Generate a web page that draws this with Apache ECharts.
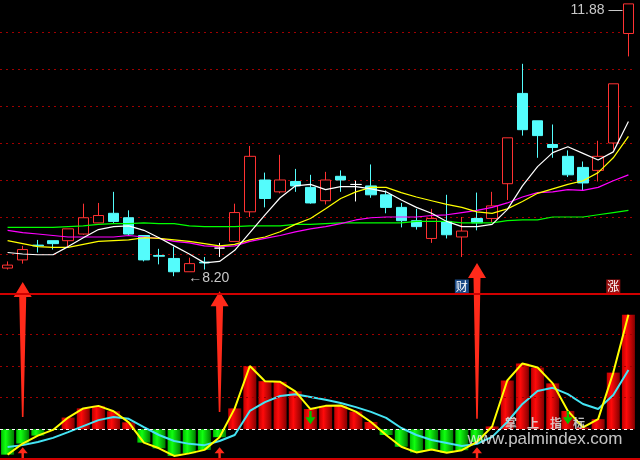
<!DOCTYPE html>
<html><head><meta charset="utf-8">
<script src="https://cdn.jsdelivr.net/npm/echarts@6/dist/echarts.min.js"></script>
<style>html,body{margin:0;padding:0;background:#000}#c{width:640px;height:460px}</style>
</head><body><div id="c"></div>
<script>
// ---------- data ----------
const days = ['1','2','3','4','5','6','7','8','9','10','11','12','13','14','15','16','17','18','19','20','21',
  '22','23','24','25','26','27','28','29','30','31','32','33','34','35','36','37','38','39','40','41','42'];

// [open, close, low, high]
const candles = [
  [8.31,8.35,8.29,8.40],[8.42,8.56,8.37,8.61],[8.62,8.61,8.52,8.69],[8.68,8.64,8.56,8.68],
  [8.68,8.84,8.60,8.84],[8.77,8.99,8.76,9.18],[8.92,9.02,8.92,9.19],[9.05,8.94,8.92,9.34],
  [8.99,8.77,8.75,9.09],[8.75,8.42,8.40,8.75],[8.48,8.47,8.36,8.57],[8.44,8.26,8.20,8.60],
  [8.26,8.37,8.26,8.45],[8.39,8.38,8.29,8.46],[8.58,8.58,8.46,8.65],[8.67,9.06,8.67,9.18],
  [9.07,9.82,9.00,9.96],[9.50,9.25,9.13,9.60],[9.34,9.50,9.32,9.84],[9.48,9.42,9.34,9.65],
  [9.40,9.19,9.18,9.57],[9.22,9.50,9.17,9.61],[9.55,9.50,9.34,9.63],[9.44,9.44,9.21,9.49],
  [9.42,9.30,9.26,9.71],[9.30,9.13,9.05,9.36],[9.13,8.95,8.86,9.19],[8.95,8.87,8.83,9.11],
  [8.71,8.98,8.65,9.11],[8.94,8.76,8.71,9.30],[8.73,8.81,8.46,9.00],[8.98,8.92,8.82,9.33],
  [8.98,9.15,8.92,9.34],[9.45,10.07,9.23,10.07],[10.67,10.18,10.10,11.07],[10.30,10.10,9.80,10.30],
  [9.98,9.94,9.80,10.25],[9.82,9.57,9.54,9.90],[9.67,9.46,9.36,9.75],[9.63,9.82,9.48,10.03],
  [10.00,10.80,9.91,10.80],[11.48,11.88,11.17,11.88]
];

const ma5 = [8.52,8.50,8.49,8.49,8.60,8.72,8.83,8.87,8.88,8.82,8.72,8.61,8.50,8.38,8.40,8.55,8.79,9.03,9.26,9.42,9.44,
  9.37,9.41,9.41,9.38,9.34,9.23,9.13,9.05,8.94,8.87,8.87,8.90,9.10,9.42,9.68,9.87,9.95,9.86,9.77,9.88,10.29];
const ma10 = [8.68,8.64,8.60,8.59,8.59,8.63,8.67,8.68,8.69,8.72,8.71,8.69,8.67,8.64,8.61,8.63,8.69,8.73,8.80,8.90,8.98,
  9.11,9.25,9.34,9.40,9.40,9.33,9.27,9.22,9.17,9.13,9.07,9.05,9.11,9.21,9.32,9.38,9.44,9.49,9.60,9.80,10.09];
const ma20 = [8.82,8.79,8.77,8.75,8.73,8.73,8.73,8.73,8.75,8.73,8.71,8.67,8.65,8.61,8.60,8.61,8.67,8.71,8.75,8.80,8.84,
  8.87,8.91,8.96,8.99,9.00,9.00,9.00,9.02,9.03,9.06,9.09,9.13,9.19,9.27,9.33,9.34,9.37,9.36,9.40,9.49,9.57];
const ma60 = [8.86,8.86,8.86,8.86,8.87,8.88,8.90,8.91,8.91,8.92,8.91,8.91,8.88,8.87,8.87,8.87,8.88,8.88,8.88,8.90,8.90,
  8.91,8.92,8.92,8.92,8.92,8.92,8.94,8.94,8.94,8.92,8.92,8.92,8.95,8.96,8.96,9.00,9.00,9.00,9.03,9.06,9.09];

// lower indicator
const osc = [-8.0,-4.5,-2.0,-0.2,3.7,6.6,7.4,5.7,2.2,-4.2,-6.0,-8.4,-7.6,-6.5,-2.5,6.6,20.0,15.2,15.0,12.0,6.4,
  7.4,7.5,5.6,2.3,-1.8,-5.5,-7.3,-6.4,-7.4,-6.6,-4.0,0.9,15.4,20.8,19.5,14.5,5.8,0.6,3.2,17.9,36.2];
const signal = [-5.6,-5.0,-4.0,-2.7,-0.9,1.0,2.9,3.9,3.3,0.7,-1.8,-3.7,-4.6,-5.0,-3.7,-1.8,5.8,8.6,10.5,11.1,10.2,
  9.3,8.3,7.0,5.5,3.6,0.4,-1.8,-3.4,-4.3,-5.3,-4.6,-2.4,2.3,8.0,12.1,13.1,11.1,8.0,6.4,10.8,18.7];

// signals: [day index, tip level, tail level]
const bigBuy = [[1,46.5,3.9],[14,43.6,5.5],[31,52.5,3.3]];
const smallBuy = [[1,-5.7,-10],[14,-5.7,-10],[31,-5.7,-10]];
const sellMarks = [[20,1.6,5.8],[37,1.6,5.8]];
const tagDays = [30,40];
const tagTexts = ['财','涨'];
const tagLevel = 45.1;

// ---------- chart ----------
const RED = '#ff3232', CYAN = '#54fcfc';
const tagColors = {'财':'#1b4a86','涨':'#9a1010'};

function arrow(o){
  return function(params, api){
    const tip = api.coord([api.value(0), api.value(1)]);
    const tail = api.coord([api.value(0), api.value(2)]);
    const x = tip[0], ty = tip[1], yt = tail[1];
    const d = ty < yt ? 1 : -1;
    const by = ty + d*o.hl;
    return {type:'polygon', shape:{points:[[x,ty],[x+o.hw,by],[x+o.sw1,by],[x+o.sw0,yt],[x-o.sw0,yt],[x-o.sw1,by],[x-o.hw,by]]},
      style:{fill:o.color}};
  };
}
const grad = (c0,c1,c2) => new echarts.graphic.LinearGradient(0,0,1,0,[{offset:0,color:c0},{offset:0.35,color:c1},{offset:1,color:c2}]);
const redG = grad('#c00000','#ff0a0a','#860000');
const greenG = grad('#00c000','#10ff10','#007f00');

const chart = echarts.init(document.getElementById('c'), null, {renderer:'canvas'});
const dotted = {color:'#a00000', type:[2,4], width:1};

chart.setOption({
  backgroundColor:'#000',
  animation:false,
  grid:[
    {left:0, right:4, top:0, height:291},
    {left:0, right:4, top:294, height:165}
  ],
  xAxis:[
    {type:'category', gridIndex:0, data:days, boundaryGap:true, axisLine:{show:false}, axisTick:{show:false}, axisLabel:{show:false}},
    {type:'category', gridIndex:1, data:days, boundaryGap:true, axisLine:{show:false}, axisTick:{show:false}, axisLabel:{show:false}}
  ],
  yAxis:[
    {type:'value', gridIndex:0, min:8.0, max:11.9324, interval:0.5, axisLine:{show:false}, axisTick:{show:false}, axisLabel:{show:false},
      splitLine:{show:true, showMinLine:false, showMaxLine:false, lineStyle:dotted}},
    {type:'value', gridIndex:1, min:-9.38, max:42.73, axisLine:{show:false}, axisTick:{show:false}, axisLabel:{show:false}, splitLine:{show:false}}
  ],
  series:[
    {type:'candlestick', xAxisIndex:0, yAxisIndex:0, data:candles, barWidth:11, z:2,
      itemStyle:{color:'#000', color0:CYAN, borderColor:RED, borderColor0:CYAN, borderColorDoji:'#ffffff', borderWidth:1},
      markPoint:{symbol:'circle', symbolSize:0, silent:true,
        label:{color:'#c8c8c8', fontSize:14, fontFamily:'"Liberation Sans Narrow", "Liberation Sans", Arial, sans-serif'},
        data:[
          {coord:[41, candles[41][3]], value:candles[41][3], label:{position:'left', distance:6, offset:[0,6], formatter:p=>p.value.toFixed(2)+' —'}},
          {coord:[11, candles[11][2]], value:candles[11][2], label:{position:'right', distance:14, offset:[0,2], formatter:p=>'←'+p.value.toFixed(2)}}
        ]}
    },
    {type:'line', xAxisIndex:0, yAxisIndex:0, data:ma60, symbol:'none', z:3, lineStyle:{color:'#00ff00', width:1.2}},
    {type:'line', xAxisIndex:0, yAxisIndex:0, data:ma20, symbol:'none', z:3, lineStyle:{color:'#ff00ff', width:1.2}},
    {type:'line', xAxisIndex:0, yAxisIndex:0, data:ma10, symbol:'none', z:3, lineStyle:{color:'#ffff00', width:1.2}},
    {type:'line', xAxisIndex:0, yAxisIndex:0, data:ma5, symbol:'none', z:3, lineStyle:{color:'#ffffff', width:1.2}},

    // lower panel reference lines
    {type:'line', xAxisIndex:1, yAxisIndex:1, data:[], z:1, silent:true,
      markLine:{symbol:['none','none'], silent:true, label:{show:false},
        data:[
          {yAxis:10, lineStyle:dotted},{yAxis:20, lineStyle:dotted},{yAxis:30, lineStyle:dotted},
          {yAxis:0, lineStyle:{color:'#ffffff', type:[3,3], width:1}}
        ]}},
    {type:'bar', xAxisIndex:1, yAxisIndex:1, barWidth:13, z:2,
      data: osc.map(v => ({value:v, itemStyle:{color: v >= 0 ? redG : greenG}}))},
    {type:'line', xAxisIndex:1, yAxisIndex:1, data:signal, symbol:'none', z:4, lineStyle:{color:'#44e4f4', width:2}},
    {type:'line', xAxisIndex:1, yAxisIndex:1, data:osc, symbol:'none', z:5, lineStyle:{color:'#ffff00', width:2}},
    {type:'custom', xAxisIndex:1, yAxisIndex:1, data:bigBuy, z:6, renderItem:arrow({hl:15, hw:9, sw1:3.5, sw0:0.8, color:'#ff2a1a'})},
    {type:'custom', xAxisIndex:1, yAxisIndex:1, data:smallBuy, z:6, renderItem:arrow({hl:6, hw:5, sw1:1.2, sw0:1.2, color:'#ff2a1a'})},
    {type:'custom', xAxisIndex:1, yAxisIndex:1, data:sellMarks, z:6, renderItem:arrow({hl:7, hw:5, sw1:1.2, sw0:1.2, color:'#00c000'})},
    {type:'custom', xAxisIndex:1, yAxisIndex:1, z:7,
      data: tagDays.map((d,i) => ({value:[d, tagLevel], name:tagTexts[i]})),
      renderItem:(params, api) => {
        const p = api.coord([api.value(0), api.value(1)]);
        const t = tagTexts[params.dataIndex];
        return {type:'text', x:p[0], y:p[1], style:{text:t, fill:'#ffffff', font:'12px "Noto Sans CJK SC", sans-serif',
          align:'center', verticalAlign:'middle', backgroundColor:tagColors[t], padding:[1,1,0,1], lineHeight:13}};
      }}
  ],
  graphic:[
    {type:'line', shape:{x1:0, y1:294, x2:640, y2:294}, style:{stroke:'#d00000', lineWidth:2}, z:10},
    {type:'line', shape:{x1:0, y1:459, x2:640, y2:459}, style:{stroke:'#d00000', lineWidth:2}, z:10},
    {type:'text', x:511, y:423, style:{text:'掌', fill:'rgba(225,225,225,0.85)', font:'bold 12px "Noto Sans CJK SC"', align:'center', verticalAlign:'middle'}, z:20},
    {type:'text', x:533, y:423, style:{text:'上', fill:'rgba(225,225,225,0.85)', font:'bold 12px "Noto Sans CJK SC"', align:'center', verticalAlign:'middle'}, z:20},
    {type:'text', x:556, y:423, style:{text:'指', fill:'rgba(225,225,225,0.85)', font:'bold 12px "Noto Sans CJK SC"', align:'center', verticalAlign:'middle'}, z:20},
    {type:'text', x:579, y:423, style:{text:'标', fill:'rgba(225,225,225,0.85)', font:'bold 12px "Noto Sans CJK SC"', align:'center', verticalAlign:'middle'}, z:20},
    {type:'text', x:545, y:439, style:{text:'www.palmindex.com', fill:'rgba(230,230,230,0.85)', font:'17px "Liberation Sans", Arial, sans-serif', align:'center', verticalAlign:'middle'}, z:20}
  ]
});
</script>
</body></html>
